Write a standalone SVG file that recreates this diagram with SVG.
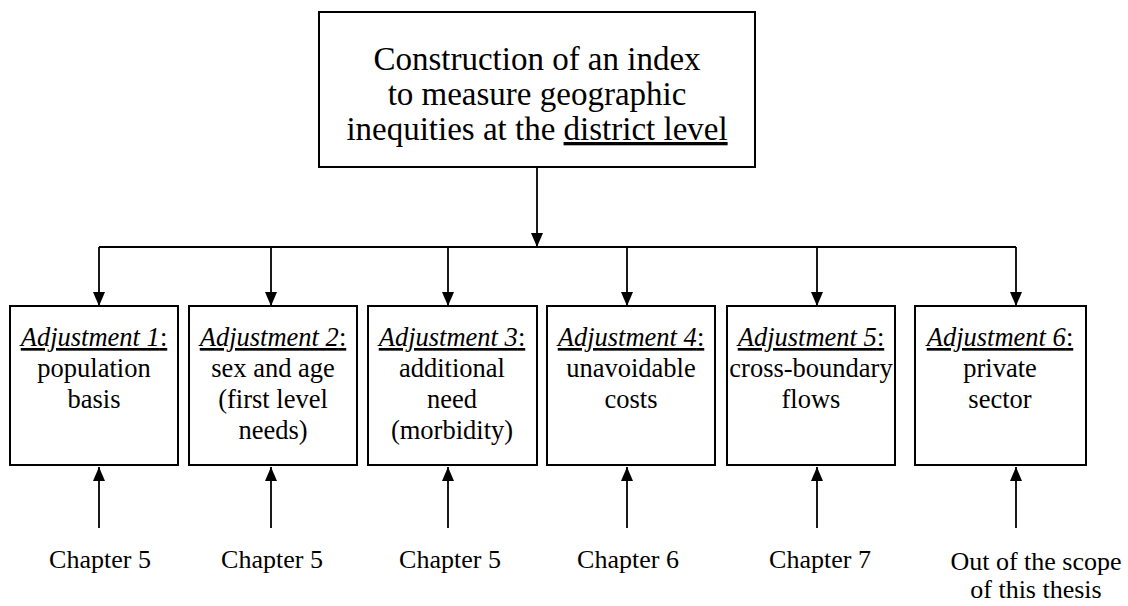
<svg xmlns="http://www.w3.org/2000/svg" width="1128" height="606" viewBox="0 0 1128 606">
<style>
  .box{fill:#fff;stroke:#000;stroke-width:2}
  .t{fill:#000;text-anchor:middle}
  .top{font-size:33px}
  .bx{font-size:26.5px}
  .ch{font-size:26px}
  .adj{font-style:italic;text-decoration:underline}
  .ul{text-decoration:underline}
  .c{fill:none;stroke:#000;stroke-width:1.8}
</style>
<defs>
  <marker id="ah" viewBox="0 0 14 12" refX="14" refY="6" markerWidth="14" markerHeight="12" markerUnits="userSpaceOnUse" orient="auto">
    <path d="M0,0 L14,6 L0,12 z" fill="#000"/>
  </marker>
</defs>
<rect width="1128" height="606" fill="#fff"/>

<g id="connectors">
  <path class="c" d="M537,167 V247" marker-end="url(#ah)"/>
  <path class="c" d="M99,247 H1016"/>
  <path class="c" d="M99,247 V306" marker-end="url(#ah)"/>
  <path class="c" d="M271,247 V306" marker-end="url(#ah)"/>
  <path class="c" d="M448,247 V306" marker-end="url(#ah)"/>
  <path class="c" d="M627,247 V306" marker-end="url(#ah)"/>
  <path class="c" d="M817,247 V306" marker-end="url(#ah)"/>
  <path class="c" d="M1016,247 V306" marker-end="url(#ah)"/>
  <path class="c" d="M99,528 V467" marker-end="url(#ah)"/>
  <path class="c" d="M271,528 V467" marker-end="url(#ah)"/>
  <path class="c" d="M448,528 V467" marker-end="url(#ah)"/>
  <path class="c" d="M627,528 V467" marker-end="url(#ah)"/>
  <path class="c" d="M817,528 V467" marker-end="url(#ah)"/>
  <path class="c" d="M1016,528 V467" marker-end="url(#ah)"/>
</g>

<g id="top" font-family="'Liberation Serif', serif">
  <rect class="box" x="319" y="12" width="436" height="155"/>
  <text class="t top" x="537" y="70">Construction of an index</text>
  <text class="t top" x="537" y="105">to measure geographic</text>
  <text class="t top" x="537" y="140">inequities at the <tspan class="ul">district level</tspan></text>
</g>

<g id="adj1" font-family="'Liberation Serif', serif">
  <rect class="box" x="10" y="306" width="168" height="159"/>
  <text class="t bx" x="94" y="346"><tspan class="adj">Adjustment 1</tspan><tspan class="ul">:</tspan></text>
  <text class="t bx" x="94" y="377">population</text>
  <text class="t bx" x="94" y="408">basis</text>
</g>
<g id="adj2" font-family="'Liberation Serif', serif">
  <rect class="box" x="189" y="306" width="168" height="159"/>
  <text class="t bx" x="273" y="346"><tspan class="adj">Adjustment 2</tspan><tspan class="ul">:</tspan></text>
  <text class="t bx" x="273" y="377">sex and age</text>
  <text class="t bx" x="273" y="408">(first level</text>
  <text class="t bx" x="273" y="439">needs)</text>
</g>
<g id="adj3" font-family="'Liberation Serif', serif">
  <rect class="box" x="368" y="306" width="169" height="159"/>
  <text class="t bx" x="452" y="346"><tspan class="adj">Adjustment 3</tspan><tspan class="ul">:</tspan></text>
  <text class="t bx" x="452" y="377">additional</text>
  <text class="t bx" x="452" y="408">need</text>
  <text class="t bx" x="452" y="439">(morbidity)</text>
</g>
<g id="adj4" font-family="'Liberation Serif', serif">
  <rect class="box" x="547" y="306" width="168" height="159"/>
  <text class="t bx" x="631" y="346"><tspan class="adj">Adjustment 4</tspan><tspan class="ul">:</tspan></text>
  <text class="t bx" x="631" y="377">unavoidable</text>
  <text class="t bx" x="631" y="408">costs</text>
</g>
<g id="adj5" font-family="'Liberation Serif', serif">
  <rect class="box" x="727" y="306" width="168" height="159"/>
  <text class="t bx" x="811" y="346"><tspan class="adj">Adjustment 5</tspan><tspan class="ul">:</tspan></text>
  <text class="t bx" x="811" y="377">cross-boundary</text>
  <text class="t bx" x="811" y="408">flows</text>
</g>
<g id="adj6" font-family="'Liberation Serif', serif">
  <rect class="box" x="915" y="306" width="171" height="159"/>
  <text class="t bx" x="1000" y="346"><tspan class="adj">Adjustment 6</tspan><tspan class="ul">:</tspan></text>
  <text class="t bx" x="1000" y="377">private</text>
  <text class="t bx" x="1000" y="408">sector</text>
</g>

<g id="labels" font-family="'Liberation Serif', serif">
  <text class="t ch" x="100" y="568">Chapter 5</text>
  <text class="t ch" x="272" y="568">Chapter 5</text>
  <text class="t ch" x="450" y="568">Chapter 5</text>
  <text class="t ch" x="628" y="568">Chapter 6</text>
  <text class="t ch" x="820" y="568">Chapter 7</text>
  <text class="t ch" x="1036" y="570">Out of the scope</text>
  <text class="t ch" x="1036" y="598">of this thesis</text>
</g>
</svg>
